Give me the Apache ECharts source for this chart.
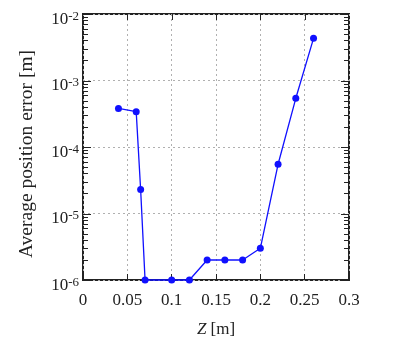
<!DOCTYPE html>
<html>
<head>
<meta charset="utf-8">
<script src="https://cdn.jsdelivr.net/npm/echarts@6/dist/echarts.min.js"></script>
<style>
  html, body { margin: 0; padding: 0; background: #fff; }
  #chart { width: 400px; height: 346px; }
</style>
</head>
<body>
<div id="chart"></div>
<script>
// Sensor height Z [m] and the average position error [m] measured at each height
const zValues = [0.04, 0.06, 0.065, 0.07, 0.10, 0.12, 0.14, 0.16, 0.18, 0.20, 0.22, 0.24, 0.26];
const errorValues = [3.8e-4, 3.4e-4, 2.3e-5, 1e-6, 1e-6, 1e-6, 2e-6, 2e-6, 2e-6, 3e-6, 5.5e-5, 5.4e-4, 4.3e-3];

// Axis ranges and tick settings
const xTicks = [0, 0.05, 0.1, 0.15, 0.2, 0.25, 0.3];
const yExponents = [-6, -5, -4, -3, -2];

const FONT = '"Liberation Serif", "DejaVu Serif", serif';
const INK = '#222';
const LINE_BLUE = '#1010ff';

const yMin = Math.pow(10, yExponents[0]);
const yMax = Math.pow(10, yExponents[yExponents.length - 1]);

// Frame tick marks: [x, y, length, kind]; kind 0 = y tick (left and right), 1 = x tick (top)
const frameTicks = [];
for (let e = yExponents[0]; e <= yExponents[yExponents.length - 1]; e++) {
  frameTicks.push([0, Math.pow(10, e), 8, 0]);
  if (e < yExponents[yExponents.length - 1]) {
    for (let k = 2; k <= 9; k++) {
      frameTicks.push([0, Number((k * Math.pow(10, e)).toPrecision(2)), 5, 0]);
    }
  }
}
xTicks.slice(1, -1).forEach(x => frameTicks.push([x, yMax, 6, 1]));

const chart = echarts.init(document.getElementById('chart'), null, { renderer: 'canvas' });

const gridDots = { show: true, lineStyle: { color: '#b0b0b0', type: [2, 3], width: 1 } };

const option = {
  backgroundColor: '#fff',
  animation: false,
  grid: {
    left: 83, top: 14, right: 51, bottom: 66, containLabel: false,
    show: true, borderColor: INK, borderWidth: 2, backgroundColor: 'transparent'
  },
  xAxis: {
    type: 'value',
    min: xTicks[0],
    max: xTicks[xTicks.length - 1],
    interval: 0.05,
    name: '{i|Z} [m]',
    nameLocation: 'middle',
    nameGap: 41,
    nameTextStyle: {
      fontFamily: FONT, fontSize: 17, color: INK,
      rich: { i: { fontFamily: FONT, fontSize: 17, fontStyle: 'italic', color: INK } }
    },
    axisLine: { show: false },
    axisTick: { show: true, inside: true, length: 6, lineStyle: { color: INK, width: 1 } },
    axisLabel: { fontFamily: FONT, fontSize: 17, color: INK, margin: 12 },
    splitLine: gridDots
  },
  yAxis: {
    type: 'log',
    logBase: 10,
    min: yMin,
    max: yMax,
    name: 'Average position error [m]',
    nameLocation: 'middle',
    nameGap: 46,
    nameTextStyle: { fontFamily: FONT, fontSize: 19.5, color: INK, padding: [0, 14, 0, 0] },
    axisLine: { show: false },
    axisTick: { show: false },
    axisLabel: {
      margin: 4,
      padding: [10, 0, 0, 0],
      formatter: v => '{b|10}{s|' + Math.round(Math.log10(v)) + '}',
      rich: {
        b: { fontFamily: FONT, fontSize: 17, color: INK, padding: [1, 0, 0, 0] },
        s: { fontFamily: FONT, fontSize: 13, color: INK, verticalAlign: 'top' }
      }
    },
    splitLine: gridDots,
    minorTick: { show: false }
  },
  series: [
    {
      // inward tick marks on the left, right and top edges of the frame
      type: 'custom',
      coordinateSystem: 'cartesian2d',
      silent: true,
      clip: false,
      z: 3,
      data: frameTicks,
      renderItem: (params, api) => {
        const cs = params.coordSys;
        const len = api.value(2);
        const style = { stroke: INK, lineWidth: 1 };
        if (api.value(3) === 0) {
          const py = Math.round(api.coord([0, api.value(1)])[1]) + 0.5;
          return {
            type: 'group',
            children: [
              { type: 'line', shape: { x1: cs.x, y1: py, x2: cs.x + len, y2: py }, style },
              { type: 'line', shape: { x1: cs.x + cs.width - len, y1: py, x2: cs.x + cs.width, y2: py }, style }
            ]
          };
        }
        const px = Math.round(api.coord([api.value(0), yMax])[0]) + 0.5;
        return { type: 'line', shape: { x1: px, y1: cs.y, x2: px, y2: cs.y + len }, style };
      }
    },
    {
      type: 'line',
      data: zValues.map((z, i) => [z, errorValues[i]]),
      clip: false,
      symbol: 'circle',
      symbolSize: 7,
      lineStyle: { color: LINE_BLUE, width: 1.3 },
      itemStyle: { color: LINE_BLUE },
      z: 5
    }
  ]
};

chart.setOption(option);
</script>
</body>
</html>
